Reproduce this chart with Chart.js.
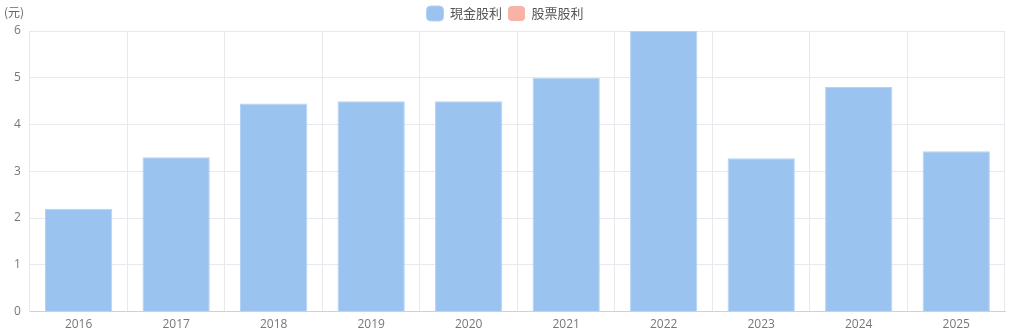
<!DOCTYPE html>
<html>
<head>
<meta charset="utf-8">
<script src="https://cdn.jsdelivr.net/npm/chart.js@4/dist/chart.umd.min.js"></script>
<style>
    html, body { margin: 0; padding: 0; background: #fff; }
    #wrap { width: 1013px; height: 332px; position: relative; }
</style>
</head>
<body>
<div id="wrap"><canvas id="divChart"></canvas></div>
<script>
const years = ['2016', '2017', '2018', '2019', '2020', '2021', '2022', '2023', '2024', '2025'];
const cashDividend = [2.2, 3.3, 4.45, 4.5, 4.5, 5.0, 6.0, 3.28, 4.8, 3.43];
const stockDividend = [null, null, null, null, null, null, null, null, null, null];
const yTicks = [0, 1, 2, 3, 4, 5, 6];

const fontFamily = '"Noto Sans CJK TC", "Noto Sans", sans-serif';
const tickFont = '"Open Sans", "Noto Sans CJK TC", sans-serif';

// unit label drawn above the y axis
const unitLabel = {
    id: 'unitLabel',
    afterDraw(chart) {
        const ctx = chart.ctx;
        ctx.save();
        ctx.font = '12px ' + fontFamily;
        ctx.fillStyle = '#666';
        ctx.textAlign = 'left';
        ctx.textBaseline = 'middle';
        ctx.fillText('(元)', 4, 12);
        ctx.restore();
    }
};

new Chart(document.getElementById('divChart'), {
    type: 'bar',
    data: {
        labels: years,
        datasets: [{
            label: '現金股利',
            data: cashDividend,
            backgroundColor: '#9bc3ef',
            borderColor: '#b4d3f4',
            borderWidth: 1,
            categoryPercentage: 0.69,
            barPercentage: 1
        }, {
            label: '股票股利',
            data: stockDividend,
            backgroundColor: '#f7b3a6',
            borderColor: '#f7b3a6',
            categoryPercentage: 0.69,
            barPercentage: 1
        }]
    },
    options: {
        responsive: true,
        maintainAspectRatio: false,
        animation: false,
        layout: { padding: { left: 5, right: 8, top: 0, bottom: -6 } },
        plugins: {
            legend: {
                position: 'top',
                labels: {
                    boxWidth: 17,
                    boxHeight: 15,
                    useBorderRadius: true,
                    borderRadius: 4,
                    color: '#555',
                    font: { family: fontFamily, size: 13 },
                    padding: 6
                }
            },
            tooltip: { enabled: false }
        },
        scales: {
            x: {
                stacked: true,
                grid: { color: '#e8e8ef', offset: true, drawTicks: false },
                border: { color: '#cfd0d8' },
                ticks: { color: '#777', font: { family: tickFont, size: 12 }, padding: 6 }
            },
            y: {
                stacked: true,
                min: 0,
                max: 6,
                afterBuildTicks(axis) {
                    axis.ticks = yTicks.map(v => ({ value: v }));
                },
                grid: { color: '#e8e8ef', drawTicks: false },
                border: { color: '#e8e8ef' },
                ticks: { color: '#777', font: { family: tickFont, size: 12 }, padding: 9 }
            }
        }
    },
    plugins: [unitLabel]
});
</script>
</body>
</html>
